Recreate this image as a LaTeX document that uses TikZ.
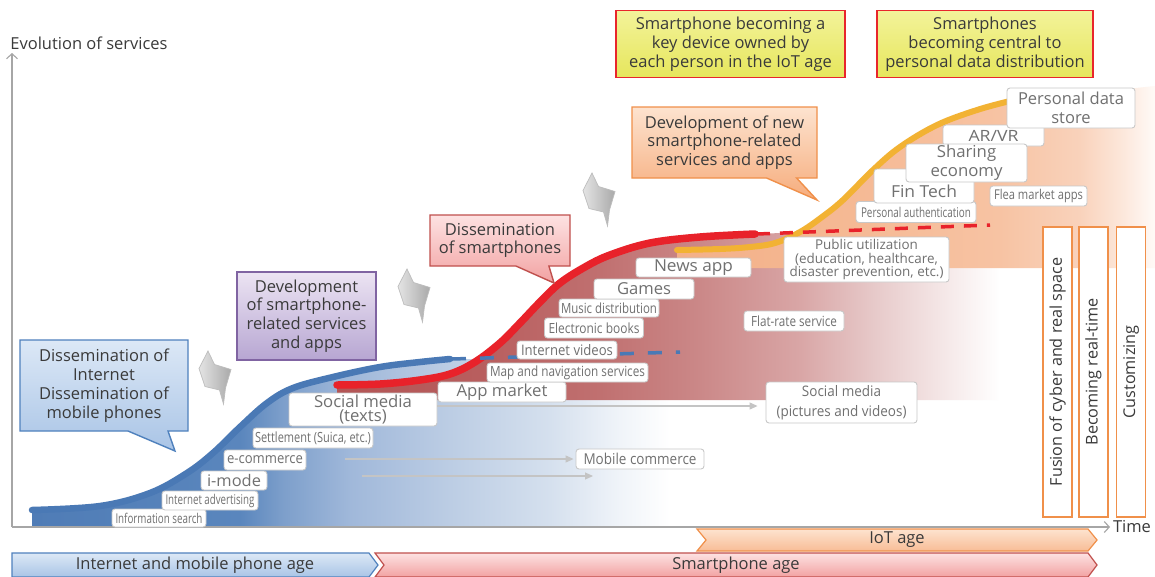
\documentclass[tikz,border=0pt]{standalone}
\usepackage{fontspec}
\setmainfont{Open Sans}
\usepackage{graphicx}
\usetikzlibrary{shapes.callouts,arrows.meta}

\definecolor{bA}{HTML}{4F7CB6}
\definecolor{bB}{HTML}{5A86BD}
\definecolor{bC}{HTML}{7D9FCB}
\definecolor{bD}{HTML}{A0B8DA}
\definecolor{bE}{HTML}{BCCDE4}
\definecolor{bF}{HTML}{D5E0EE}
\definecolor{bG}{HTML}{F0F4F9}
\definecolor{rA}{HTML}{B35555}
\definecolor{rB}{HTML}{B85E5E}
\definecolor{rC}{HTML}{C07070}
\definecolor{rD}{HTML}{CB8888}
\definecolor{rE}{HTML}{D9A6A6}
\definecolor{rF}{HTML}{E8CCCC}
\definecolor{rG}{HTML}{F6EAEA}
\definecolor{oA}{HTML}{F3B088}
\definecolor{oB}{HTML}{F5B994}
\definecolor{oC}{HTML}{F7C3A3}
\definecolor{oD}{HTML}{F9D2BB}
\definecolor{oE}{HTML}{FCE6D9}
\definecolor{oF}{HTML}{FFFAF7}
\definecolor{blueline}{HTML}{4A79B5}
\definecolor{redline}{HTML}{E8222A}
\definecolor{orangeline}{HTML}{F2B233}
\definecolor{labborder}{HTML}{C8C8C8}
\definecolor{labtext}{HTML}{707070}
\definecolor{txt}{HTML}{3A3A3A}
\definecolor{axisgray}{HTML}{A6A6A6}
\definecolor{arrgray}{HTML}{C4C4C4}
\definecolor{cbT}{HTML}{DCE8F6}
\definecolor{cbB}{HTML}{A9C4E6}
\definecolor{cbD}{HTML}{4F81BD}
\definecolor{puT}{HTML}{ECE4F3}
\definecolor{puB}{HTML}{B7A6D2}
\definecolor{puD}{HTML}{8064A2}
\definecolor{crT}{HTML}{FDE2E2}
\definecolor{crB}{HTML}{F2A2A2}
\definecolor{crD}{HTML}{C0504D}
\definecolor{coT}{HTML}{FDE3CF}
\definecolor{coB}{HTML}{F6AC7C}
\definecolor{coD}{HTML}{F0904A}
\definecolor{yT}{HTML}{F3F39A}
\definecolor{yB}{HTML}{E6E65C}
\definecolor{yD}{HTML}{E8262C}
\definecolor{gT}{HTML}{E4E4E4}
\definecolor{gB}{HTML}{A9A9A9}
\definecolor{gD}{HTML}{BDBDBD}

\pgfdeclarehorizontalshading{blueshade}{100bp}{color(0bp)=(bA); color(25bp)=(bA); color(40.57bp)=(bB); color(43.79bp)=(bC); color(48.8bp)=(bD); color(56.29bp)=(bE); color(63.77bp)=(bF); color(69.01bp)=(bG); color(72.75bp)=(white); color(100bp)=(white)}
\pgfdeclarehorizontalshading{redshade}{100bp}{color(0bp)=(rA); color(25bp)=(rA); color(35.78bp)=(rB); color(44.83bp)=(rC); color(52.37bp)=(rD); color(59.92bp)=(rE); color(65.95bp)=(rF); color(71.23bp)=(rG); color(75bp)=(white); color(100bp)=(white)}
\pgfdeclarehorizontalshading{orangeshade}{100bp}{color(0bp)=(oA); color(25bp)=(oA); color(43.03bp)=(oB); color(58.75bp)=(oC); color(67.14bp)=(oD); color(71.33bp)=(oE); color(75bp)=(oF); color(100bp)=(oF)}

\newcommand\fw[2]{\resizebox{#1}{\height}{#2}}
\newcommand\fsz[2]{\fontsize{#1}{#2}\selectfont}
\newcommand\ml[1]{\vbox{\halign{\hfil##\hfil\cr#1\crcr}}}

\tikzset{
  lab/.style={draw=labborder, fill=white, rounded corners=3pt, text=labtext, inner sep=0pt, line width=0.9pt},
  cbox/.style={text=txt, inner sep=1pt, line width=1.4pt, font=\fsz{16.5}{19}},
  vbox/.style={draw=coD, fill=white, line width=1.5pt, text=txt, inner sep=0pt, font=\fsz{16.2}{19}},
  bartxt/.style={text=txt, inner sep=0pt, font=\fsz{16.5}{19}},
  axisline/.style={draw=axisgray, line width=1.1pt},
  svcarrow/.style={draw=arrgray, line width=1.1pt, -{Triangle[length=8pt,width=7pt]}},
  chev/.style={left color=gT, right color=gB, draw=gD, line width=0.7pt, line join=miter},
  curve/.style={line width=6.5pt, line cap=round},
}

\newcommand\gchev[2]{\path[chev, shift={(#1,#2)}] (208,351) -- (214.5,364.5) -- (231,369.5) -- (225.5,388) -- (223.5,404) -- (219.5,390) -- (205,386.5) -- (199,368.5) -- cycle;}

\begin{document}
\begin{tikzpicture}[x=1pt,y=-1pt]
\path[use as bounding box] (0,0) rectangle (1155,576);
\clip (0,0) rectangle (1155,576);
\fill[white] (0,0) rectangle (1155,576);

% ---------- areas ----------
\shade[shading=blueshade] (32,527) -- plot[smooth,tension=0.6] coordinates {(32,510) (100,506) (150,493) (187,473) (213,453) (240,427) (267,403) (293,388) (333,377) (380,367) (420,362) (450,359)} -- (520,359) -- (520,400) -- (700,400) -- (700,527) -- cycle;

\shade[shading=redshade] (337,400) -- plot[smooth,tension=0.6] coordinates {(337,385) (380,384) (420,380) (450,374) (475,362) (500,343) (520,323) (540,302) (560,283) (585,267) (610,255) (650,243) (700,237) (755,234)} -- (988,225) -- (1000,225) -- (1000,400) -- cycle;

\shade[shading=orangeshade] (677,268) -- plot[smooth,tension=0.6] coordinates {(677,250) (720,249) (750,247) (775,243) (800,232) (822,217) (843,200) (873,170) (900,147) (937,125) (977,110) (1010,101)} -- (1155,86) -- (1155,268) -- cycle;

% ---------- axes ----------
\coordinate (orig) at (12,527);
\coordinate (ytop) at (12,53);
\coordinate (xend) at (1110,527);
\draw[axisline, -{Straight Barb[length=5pt,width=11pt]}] (orig) -- (ytop);
\draw[axisline, -{Straight Barb[length=5pt,width=11pt]}] (orig) -- (xend);
\node[text=txt, font=\fsz{16.5}{19}, inner sep=0pt] (ylab) at (89,43) {Evolution of services};
\node[text=txt, font=\fsz{16.5}{19}, inner sep=0pt] (xlab) at (1132,527) {Time};

% ---------- curves ----------
\draw[curve, blueline] plot[smooth,tension=0.6] coordinates {(32,510) (100,506) (150,493) (187,473) (213,453) (240,427) (267,403) (293,388) (333,377) (380,367) (420,362) (450,359)};
\draw[curve, redline, line width=7.5pt] plot[smooth,tension=0.6] coordinates {(337,385) (380,384) (420,380) (450,374) (475,362) (500,343) (520,323) (540,302) (560,283) (585,267) (610,255) (650,243) (700,237) (755,234)};
\draw[blueline, line width=3.5pt, dash pattern=on 14pt off 14pt] (452,359) -- (680,352);
\draw[curve, orangeline, line width=6pt] plot[smooth,tension=0.6] coordinates {(677,250) (720,249) (750,247) (775,243) (800,232) (822,217) (843,200) (873,170) (900,147) (937,125) (977,110) (1010,101)};
\draw[redline, line width=3.5pt, dash pattern=on 13pt off 10pt] (757,234) -- (990,225);

% ---------- labels ----------
\node[lab, minimum width=94pt, minimum height=18pt, font=\fsz{13.5}{15}] (infs) at (159,518) {\fw{87pt}{Information search}};
\node[lab, minimum width=96pt, minimum height=19pt, font=\fsz{13.5}{15}] (iadv) at (210,500.5) {\fw{89pt}{Internet advertising}};
\node[lab, minimum width=66pt, minimum height=19pt, font=\fsz{16}{18}] (imode) at (234,480.5) {\fw{54pt}{i-mode}};
\node[lab, minimum width=82pt, minimum height=20pt, font=\fsz{14.5}{16}] (ecom) at (265,460) {\fw{76pt}{e-commerce}};
\node[lab, minimum width=120pt, minimum height=20pt, font=\fsz{14}{16}] (settle) at (313,438) {\fw{116pt}{Settlement (Suica, etc.)}};
\node[lab, minimum width=148pt, minimum height=33pt, font=\fsz{16.5}{14.5}] (smt) at (363,409.5) {\fw{98pt}{\ml{Social media\cr(texts)}}};
\node[lab, minimum width=128pt, minimum height=20pt, font=\fsz{16.5}{18}] (appm) at (502,392) {\fw{91pt}{App market}};
\node[lab, minimum width=161pt, minimum height=19pt, font=\fsz{14}{16}] (mapn) at (567.5,372.5) {\fw{155pt}{Map and navigation services}};
\node[lab, minimum width=100pt, minimum height=18pt, font=\fsz{14.5}{16}] (ivid) at (567,350) {\fw{92pt}{Internet videos}};
\node[lab, minimum width=99pt, minimum height=20pt, font=\fsz{14}{16}] (ebook) at (594,328) {\fw{91pt}{Electronic books}};
\node[lab, minimum width=100pt, minimum height=18pt, font=\fsz{14}{16}] (music) at (609,308) {\fw{96pt}{Music distribution}};
\node[lab, minimum width=100pt, minimum height=20pt, font=\fsz{16.5}{18}] (games) at (644,289) {\fw{54pt}{Games}};
\node[lab, minimum width=115pt, minimum height=19pt, font=\fsz{16.5}{18}] (news) at (693.5,267.5) {\fw{79pt}{News app}};
\node[lab, minimum width=128pt, minimum height=20pt, font=\fsz{15}{17}] (mcom) at (640,459) {\fw{113pt}{Mobile commerce}};
\node[lab, minimum width=151pt, minimum height=41pt, font=\fsz{14.5}{20}] (smpv) at (841.5,402.5) {\fw{130pt}{\ml{Social media\cr(pictures and videos)}}};
\node[lab, minimum width=100pt, minimum height=20pt, font=\fsz{14}{16}] (flat) at (794,321) {\fw{86pt}{Flat-rate service}};
\node[lab, minimum width=165pt, minimum height=45pt, font=\fsz{13.5}{13.7}] (pubu) at (866.5,259.5) {\fw{154pt}{\ml{Public utilization\cr(education, healthcare,\cr disaster prevention, etc.)}}};
\node[lab, minimum width=120pt, minimum height=21pt, font=\fsz{13.5}{15}] (pauth) at (916,212) {\fw{110pt}{Personal authentication}};
\node[lab, minimum width=100pt, minimum height=34pt, font=\fsz{16.5}{18}, text height=22pt, text depth=0pt] (fint) at (924,186) {\fw{66pt}{Fin Tech}};
\node[lab, minimum width=101pt, minimum height=21pt, font=\fsz{15.5}{17}] (arvr) at (993.5,135.5) {\fw{50pt}{AR/VR}};
\node[lab, minimum width=121pt, minimum height=38pt, font=\fsz{16.5}{19}] (share) at (966.5,163) {\fw{72pt}{\ml{Sharing\cr economy}}};
\node[lab, minimum width=128pt, minimum height=40pt, font=\fsz{16.5}{19}] (pds) at (1071,108) {\fw{106pt}{\ml{Personal data\cr store}}};
\node[lab, minimum width=97pt, minimum height=20pt, font=\fsz{13.5}{15}] (flea) at (1038.5,196) {\fw{89pt}{Flea market apps}};

% ---------- service arrows ----------
\coordinate (s1) at (437,406);
\coordinate (s2) at (345,459);
\coordinate (s3) at (362,476);
\coordinate (e3) at (593,476);
\draw[svcarrow] (s1) -- ([xshift=-8pt]smpv.west |- s1);
\draw[svcarrow] (s2) -- ([xshift=-2pt]mcom.west |- s2);
\draw[svcarrow] (s3) -- (e3);

% ---------- gray chevrons ----------
\gchev{0}{0}
\gchev{199}{-82}
\gchev{384}{-178}

% ---------- callouts ----------
\coordinate (tA) at (175,451);
\coordinate (tB) at (554,283);
\coordinate (tC) at (817,200);
\node[cbox, rectangle callout, callout absolute pointer={(tA)}, callout pointer width=40pt, top color=cbT, bottom color=cbB, draw=cbD, minimum width=168pt, minimum height=91pt] (cA) at (104,385.5) {\ml{Dissemination of\cr Internet\cr Dissemination of\cr mobile phones}};
\node[cbox, top color=puT, bottom color=puB, draw=puD, minimum width=139pt, minimum height=88pt, font=\fsz{16.5}{18.7}] (cP) at (306.5,316) {\ml{Development\cr of smartphone-\cr related services\cr and apps}};
\node[cbox, rectangle callout, callout absolute pointer={(tB)}, callout pointer width=33pt, top color=crT, bottom color=crB, draw=crD, minimum width=140pt, minimum height=51pt, font=\fsz{16.5}{18.5}] (cB) at (500,240.5) {\ml{Dissemination\cr of smartphones}};
\node[cbox, rectangle callout, callout absolute pointer={(tC)}, callout pointer width=30pt, top color=coT, bottom color=coB, draw=coD, minimum width=185pt, minimum height=71pt, font=\fsz{16.5}{18.5}] (cC) at (724.5,142.5) {\ml{Development of new\cr smartphone-related\cr services and apps}};
\node[cbox, top color=yT, bottom color=yB, draw=yD, minimum width=229pt, minimum height=67pt] (y1) at (730.5,44) {\ml{Smartphone becoming a\cr key device owned by\cr each person in the IoT age}};
\node[cbox, top color=yT, bottom color=yB, draw=yD, minimum width=216pt, minimum height=67pt] (y2) at (985,44) {\ml{Smartphones\cr becoming central to\cr personal data distribution}};

% ---------- vertical boxes ----------
\node[vbox, rotate=90, minimum width=290pt, minimum height=29pt] (v1) at (1057.5,372) {Fusion of cyber and real space};
\node[vbox, rotate=90, minimum width=290pt, minimum height=29pt] (v2) at (1093.5,372) {Becoming real-time};
\node[vbox, rotate=90, minimum width=290pt, minimum height=29pt] (v3) at (1131,372) {Customizing};

% ---------- age bars ----------
\shade[top color=cbT, bottom color=cbB, draw=cbD, line width=1.2pt] (12,553) -- (369,553) -- (378,565) -- (369,577) -- (12,577) -- cycle;
\shade[top color=crT, bottom color=crB, draw=crD, line width=1.2pt] (375,553) -- (1088,553) -- (1097,565) -- (1088,577) -- (375,577) -- (384,565) -- cycle;
\shade[top color=coT, bottom color=coB!80!white, draw=coD, line width=1.2pt] (697,529) -- (1088,529) -- (1097,540) -- (1088,551) -- (697,551) -- (706,540) -- cycle;
\node[bartxt] (age1) at (195,565) {Internet and mobile phone age};
\node[bartxt] (age2) at (736,565) {Smartphone age};
\node[bartxt] (age3) at (897,540) {IoT age};
\end{tikzpicture}
\end{document}
